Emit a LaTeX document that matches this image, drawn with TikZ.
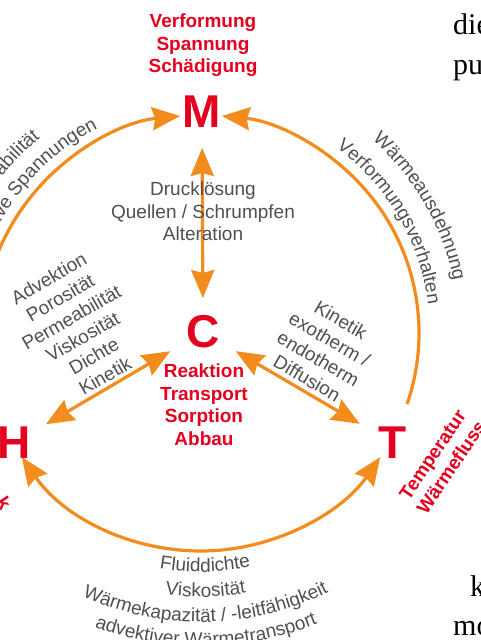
\documentclass[tikz,border=0pt]{standalone}
\usepackage{fontspec}
\setmainfont{Liberation Sans}
\newfontfamily\bodyfont{Liberation Serif}
\usetikzlibrary{arrows.meta,decorations.text,calc}
\definecolor{org}{RGB}{243,140,28}
\definecolor{rd}{RGB}{228,0,30}
\definecolor{gr}{RGB}{80,80,80}
\newcommand\gtx{\color{gr}\fontsize{19}{22}\selectfont}
\begin{document}
\begin{tikzpicture}[x=1pt,y=1pt,
  >={Stealth[length=28pt,width=23pt,inset=3pt]},
  conn/.style={draw=org, line width=3.2pt},
  letter/.style={text=rd, font=\bfseries\fontsize{46}{46}\selectfont, inner sep=0pt},
  redlab/.style={text=rd, font=\bfseries\fontsize{19}{22.5}\selectfont, align=center, inner sep=0pt},
  graylab/.style={text=gr, font=\fontsize{19}{22.5}\selectfont, align=center, inner sep=0pt},
  bodytxt/.style={font=\bodyfont\fontsize{30}{30}\selectfont, inner sep=0pt, anchor=base west},
  arctext/.style={decorate, decoration={text along path, text align=center, text={|\gtx|#1}}}
]
\useasboundingbox (0,0) rectangle (481,640);
\clip (0,0) rectangle (481,640);
\fill[white] (0,0) rectangle (481,640);

% letters
\node[letter] (M) at (202,528) {M};
\node[letter] (C) at (203,308) {C};
\node[letter] (H) at (14,197) {H};
\node[letter] (T) at (392.5,197) {T};

\coordinate (O) at (201,307);

% arcs
\draw[conn,->] ($(O)+(-19:218)$) arc[start angle=-19,end angle=84.5,radius=218];
\draw[conn,<->] ($(O)+(200.5:218)$) arc[start angle=200.5,end angle=95.5,radius=218];
\draw[conn,<->] ($(O)+(214.7:218)$) arc[start angle=214.7,end angle=325.3,radius=218];

% straight connectors
\draw[conn,<->,shorten <=36pt,shorten >=34pt] (M.center) -- (C.center);
\draw[conn,<->,shorten <=37pt,shorten >=38pt] (H.center) -- (C.center);
\draw[conn,<->,shorten <=38pt,shorten >=38pt] (C.center) -- (T.center);

% red labels
\node[redlab] (mlab) at (203,594.5) {Verformung\\Spannung\\Schädigung};
\node[redlab] (clab) at (204,235.5) {Reaktion\\Transport\\Sorption\\Abbau};
\node[redlab, rotate=56] (tlab) at (442,179) {Temperatur\\Wärmefluss};
\node[redlab, rotate=-56] (hlab) at (4,137) {k};

% gray labels
\node[graylab] (mclab) at (203,428.5) {Drucklösung\\Quellen / Schrumpfen\\Alteration};
\node[graylab, rotate=30] (hclab) at (77,313) {Advektion\\Porosität\\Permeabilität\\Viskosität\\Dichte\\Kinetik};
\node[graylab, rotate=-30] (ctlab) at (324,291) {Kinetik\\exotherm /\\endotherm\\Diffusion};

% curved labels
\path[arctext={Effektive Spannungen}] ($(O)+(190:229)$) arc[start angle=190,end angle=90,radius=229];
\path[arctext={Permeabilität}] ($(O)+(192:253)$) arc[start angle=192,end angle=92,radius=253];
\path[arctext={Wärmeausdehnung}] ($(O)+(80:258)$) arc[start angle=80,end angle=-20,radius=258];
\path[arctext={Verformungsverhalten}] ($(O)+(80.5:229)$) arc[start angle=80.5,end angle=-19.5,radius=229];
\path[arctext={Fluiddichte}] ($(O)+(221:239)$) arc[start angle=221,end angle=321,radius=239];
\path[arctext={Viskosität}] ($(O)+(221:264)$) arc[start angle=221,end angle=321,radius=264];
\path[arctext={Wärmekapazität / -leitfähigkeit}] ($(O)+(221:289)$) arc[start angle=221,end angle=321,radius=289];
\path[arctext={advektiver Wärmetransport}] ($(O)+(221:313)$) arc[start angle=221,end angle=321,radius=313];

% surrounding body text
\node[bodytxt] (b1) at (453,605) {die};
\node[bodytxt] (b2) at (453,565) {pu};
\node[bodytxt] (b3) at (470,43) {k};
\node[bodytxt] (b4) at (453,5) {mo};
\end{tikzpicture}
\end{document}
